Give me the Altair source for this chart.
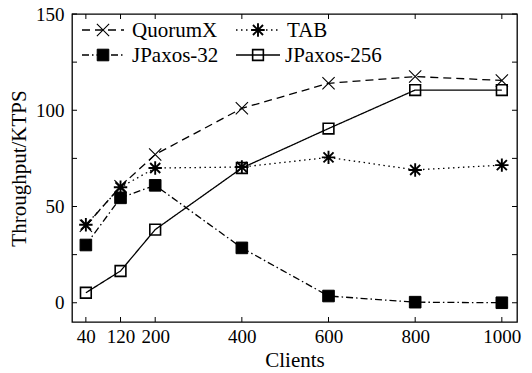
import altair as alt
import pandas as pd

clients = [40, 120, 200, 400, 600, 800, 1000]
series_names = ["QuorumX", "TAB", "JPaxos-32", "JPaxos-256"]
quorumx = [40, 60.5, 77, 101, 114, 117.5, 115.5]
tab = [40.5, 60, 70, 70.5, 75.5, 69, 71.5]
jpaxos32 = [30, 54.5, 61, 28.5, 3.5, 0.3, 0]
jpaxos256 = [5.2, 16.5, 38, 70, 90.5, 110.5, 110.5]
x_ticks = [40, 120, 200, 400, 600, 800, 1000]
y_ticks = [0, 25, 50, 75, 100, 125, 150]
y_labels = [0, 50, 100, 150]

values = {"QuorumX": quorumx, "TAB": tab, "JPaxos-32": jpaxos32, "JPaxos-256": jpaxos256}
rows = []
for s in series_names:
    for c, v in zip(clients, values[s]):
        rows.append({"series": s, "clients": c, "tput": v})
df = pd.DataFrame(rows)

FONT = "Liberation Serif"
W, H = 445, 308

X_PATH = "M-1,-1L1,1M-1,1L1,-1"
STAR_PATH = "M-1,0L1,0M0,-1L0,1M-0.75,-0.75L0.75,0.75M-0.75,0.75L0.75,-0.75"

style = {
    "QuorumX": dict(dash=[8, 5], shape=X_PATH, size=150, filled=False, fill="none", sw=1.1),
    "TAB": dict(dash=[1.5, 3.5], shape=STAR_PATH, size=180, filled=False, fill="none", sw=1.9),
    "JPaxos-32": dict(dash=[7, 3, 1.5, 3], shape="square", size=135, filled=True, fill="black", sw=1),
    "JPaxos-256": dict(dash=[1, 0], shape="square", size=115, filled=False, fill="none", sw=1.6),
}

xs = alt.Scale(domain=[8, 1035], nice=False, zero=False)
ys = alt.Scale(domain=[-10, 150], nice=False, zero=False)

xenc = alt.X("clients:Q", scale=xs, axis=alt.Axis(
    values=x_ticks, format="d", ticks=False, domain=False, grid=False, labelFont=FONT, labelFontSize=19,
    labelColor="black", labelPadding=5, title="Clients", titleFont=FONT, titleFontSize=21,
    titleFontWeight="normal", titleColor="black", titlePadding=3, labelFlush=False))
yenc = alt.Y("tput:Q", scale=ys, axis=alt.Axis(
    values=y_labels, format="d", ticks=False, domain=False, grid=False, labelFont=FONT, labelFontSize=19,
    labelColor="black", labelPadding=8, title="Throughput/KTPS", titleFont=FONT, titleFontSize=21,
    titleFontWeight="normal", titleColor="black", titlePadding=6))

layers = []
first = True
for s in series_names:
    st = style[s]
    d = df[df.series == s]
    line = alt.Chart(d).mark_line(color="black", strokeWidth=1.3, strokeDash=st["dash"]).encode(
        x=xenc if first else alt.X("clients:Q", scale=xs),
        y=yenc if first else alt.Y("tput:Q", scale=ys))
    first = False
    layers.append(line)

for s in series_names:
    st = style[s]
    d = df[df.series == s]
    pt = alt.Chart(d).mark_point(shape=st["shape"], size=st["size"], filled=st["filled"],
                                 fill=st["fill"], stroke="black", strokeWidth=st["sw"], opacity=1).encode(
        x=alt.X("clients:Q", scale=xs), y=alt.Y("tput:Q", scale=ys))
    layers.append(pt)

# inner ticks
ytick_df = pd.DataFrame({"tput": y_ticks})
xtick_df = pd.DataFrame({"clients": x_ticks})
layers.append(alt.Chart(ytick_df).mark_rule(color="black", strokeWidth=1).encode(
    y=alt.Y("tput:Q", scale=ys), x=alt.value(0), x2=alt.value(5)))
layers.append(alt.Chart(ytick_df).mark_rule(color="black", strokeWidth=1).encode(
    y=alt.Y("tput:Q", scale=ys), x=alt.value(W - 5), x2=alt.value(W)))
layers.append(alt.Chart(xtick_df).mark_rule(color="black", strokeWidth=1).encode(
    x=alt.X("clients:Q", scale=xs), y=alt.value(H - 5), y2=alt.value(H)))
layers.append(alt.Chart(xtick_df).mark_rule(color="black", strokeWidth=1).encode(
    x=alt.X("clients:Q", scale=xs), y=alt.value(0), y2=alt.value(5)))

# manual legend (2 columns)
leg_pos = {
    "QuorumX": (10, 52, 31, 60, 16),
    "TAB": (164, 208, 186, 215, 16),
    "JPaxos-32": (10, 52, 31, 60, 41),
    "JPaxos-256": (164, 208, 186, 213, 41),
}
for s in series_names:
    st = style[s]
    x0, x1, xm, xt, yy = leg_pos[s]
    ld = alt.Data(values=[{"label": s}])
    layers.append(alt.Chart(ld).mark_rule(color="black", strokeWidth=1.3, strokeDash=st["dash"]).encode(
        x=alt.value(x0), x2=alt.value(x1), y=alt.value(yy)))
    layers.append(alt.Chart(ld).mark_point(shape=st["shape"], size=st["size"], filled=st["filled"],
                                           fill=st["fill"], stroke="black", strokeWidth=st["sw"], opacity=1).encode(
        x=alt.value(xm), y=alt.value(yy)))
    layers.append(alt.Chart(ld).mark_text(align="left", baseline="middle", font=FONT, fontSize=21,
                                          color="black", dy=1).encode(
        x=alt.value(xt), y=alt.value(yy), text="label:N"))

chart = alt.layer(*layers).properties(
    width=W, height=H,
    autosize=alt.AutoSizeParams(type="none"),
    padding={"left": 72, "top": 14, "right": 15, "bottom": 51},
    background="white",
).configure_view(stroke="black", strokeWidth=1.3)

chart.save("out.html", embed_options={"renderer": "svg", "actions": False})
